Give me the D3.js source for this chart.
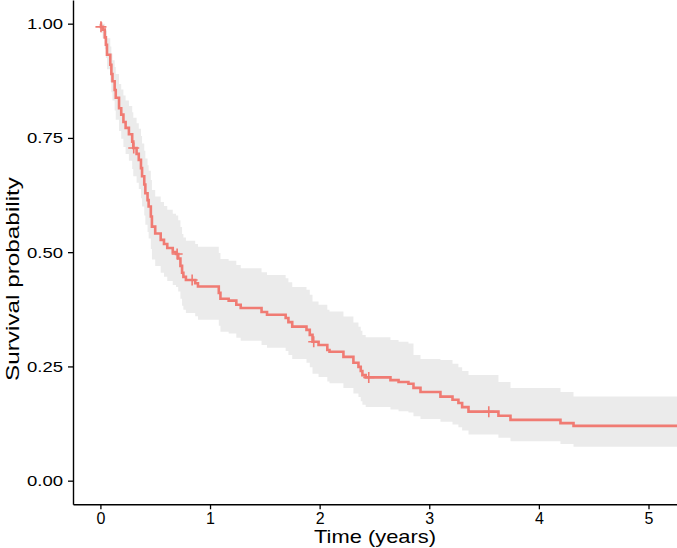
<!DOCTYPE html>
<html>
<head>
<meta charset="utf-8">
<script src="https://cdn.jsdelivr.net/npm/d3@7"></script>
<style>
body{margin:0;background:#fff}
text{font-family:"Liberation Sans",Arial,sans-serif}
</style>
</head>
<body>
<div id="chart"></div>
<script>
// Kaplan-Meier steps
var times = [0,0.005,0.02,0.04,0.05,0.06,0.09,0.10,0.11,0.13,0.14,0.17,0.19,0.21,0.23,0.26,0.29,0.30,0.33,0.35,0.37,0.38,0.40,0.41,0.43,0.44,0.46,0.47,0.50,0.55,0.58,0.61,0.66,0.69,0.71,0.73,0.745,0.757,0.78,0.865,0.89,1.08,1.095,1.17,1.24,1.28,1.47,1.52,1.69,1.715,1.75,1.88,1.91,1.935,1.99,2.07,2.09,2.217,2.308,2.354,2.375,2.39,2.42,2.646,2.72,2.81,2.856,2.92,3.102,3.212,3.266,3.30,3.358,3.631,3.741,4.197,4.316,5.27]
var surv = [1,0.993,0.987,0.970,0.954,0.932,0.910,0.890,0.874,0.855,0.838,0.815,0.801,0.785,0.772,0.758,0.742,0.728,0.715,0.702,0.684,0.666,0.648,0.629,0.614,0.600,0.578,0.556,0.541,0.527,0.518,0.509,0.500,0.496,0.486,0.470,0.455,0.446,0.439,0.432,0.425,0.411,0.398,0.394,0.385,0.378,0.369,0.363,0.356,0.347,0.337,0.330,0.319,0.304,0.297,0.286,0.282,0.271,0.258,0.249,0.240,0.231,0.226,0.220,0.216,0.212,0.203,0.194,0.184,0.177,0.170,0.161,0.151,0.142,0.133,0.126,0.120,0.120]
var lower = [1,0.980,0.968,0.944,0.925,0.900,0.872,0.850,0.832,0.810,0.790,0.765,0.748,0.730,0.715,0.700,0.682,0.666,0.652,0.638,0.618,0.600,0.580,0.560,0.544,0.530,0.507,0.484,0.470,0.455,0.446,0.437,0.428,0.424,0.414,0.398,0.383,0.374,0.367,0.360,0.352,0.339,0.326,0.322,0.313,0.306,0.297,0.291,0.284,0.275,0.266,0.258,0.248,0.234,0.227,0.217,0.213,0.203,0.191,0.183,0.174,0.166,0.161,0.156,0.152,0.149,0.141,0.135,0.129,0.123,0.117,0.110,0.101,0.094,0.086,0.080,0.074,0.074]
var upper = [1,1,1,0.995,0.985,0.968,0.950,0.935,0.920,0.905,0.890,0.868,0.856,0.843,0.832,0.820,0.806,0.794,0.782,0.770,0.754,0.738,0.722,0.705,0.690,0.678,0.658,0.636,0.622,0.610,0.601,0.593,0.584,0.580,0.570,0.555,0.540,0.532,0.525,0.518,0.512,0.498,0.485,0.481,0.472,0.465,0.456,0.450,0.443,0.434,0.424,0.418,0.407,0.392,0.385,0.374,0.370,0.359,0.346,0.337,0.328,0.319,0.314,0.308,0.304,0.300,0.275,0.266,0.264,0.256,0.248,0.240,0.231,0.216,0.203,0.194,0.184,0.184]
var censorTimes = [0.005,0.304,0.70,0.837,1.946,2.448,3.543]
var censorSurv = [0.993,0.728,0.496,0.439,0.304,0.226,0.151]
var xTicks = [0,1,2,3,4,5]
var yTicks = [0,0.25,0.5,0.75,1]

var width = 677
var height = 548
var padLeft = 73, padRight = 677, padTop = 0, padBottom = 504.3

var svg = d3.select("#chart").append("svg")
	.attr("width",width).attr("height",height)

var xScale = d3.scaleLinear().domain([-0.25,5.26]).range([padLeft,padRight])
var yScale = d3.scaleLinear().domain([-0.0517,1.0518]).range([padBottom,padTop])

var rows = times.map(function(t,i){return {t:t,s:surv[i],lo:lower[i],hi:upper[i]}})

var band = d3.area()
	.x(function(d){return xScale(d.t)})
	.y0(function(d){return yScale(d.lo)})
	.y1(function(d){return yScale(d.hi)})
	.curve(d3.curveStepAfter)

svg.append("path").datum(rows)
	.attr("d",band)
	.attr("fill","#ebebeb")

var line = d3.line()
	.x(function(d){return xScale(d.t)})
	.y(function(d){return yScale(d.s)})
	.curve(d3.curveStepAfter)

svg.append("path").datum(rows)
	.attr("d",line)
	.attr("fill","none")
	.attr("stroke","#f07b73")
	.attr("stroke-width",2.6)

// censor marks
var cs = 5.5
svg.selectAll(".cens")
	.data(censorTimes)
	.enter()
	.append("path")
	.attr("class","cens")
	.attr("d",function(d,i){
		var x = xScale(d), y = yScale(censorSurv[i])
		return "M"+(x-cs)+","+y+"H"+(x+cs)+"M"+x+","+(y-cs)+"V"+(y+cs)
	})
	.attr("stroke","#f07b73")
	.attr("stroke-width",1.6)

var xAxis = d3.axisBottom(xScale).tickValues(xTicks).tickSize(5).tickSizeOuter(0).tickPadding(3)
	.tickFormat(function(d){return d})
var yAxis = d3.axisLeft(yScale).tickValues(yTicks).tickSize(5).tickSizeOuter(0).tickPadding(5)
	.tickFormat(d3.format(".2f"))

var xG = svg.append("g").attr("transform","translate(0,"+padBottom+")").call(xAxis)
var yG = svg.append("g").attr("transform","translate("+padLeft+",0)").call(yAxis)

xG.select(".domain").attr("stroke","#000").attr("stroke-width",1.4)
yG.select(".domain").attr("stroke","#000").attr("stroke-width",1.4)
xG.selectAll(".tick line").attr("stroke","#000").attr("stroke-width",1.3)
yG.selectAll(".tick line").attr("stroke","#000").attr("stroke-width",1.3)
xG.selectAll(".tick text").attr("font-size",16).attr("fill","#000")
yG.selectAll(".tick text").attr("font-size",15.5).attr("fill","#000")
	.attr("textLength",36).attr("lengthAdjust","spacingAndGlyphs")

svg.append("text").text("Time (years)")
	.attr("x",(padLeft+padRight)/2).attr("y",543)
	.attr("text-anchor","middle")
	.attr("font-size",19)
	.attr("textLength",122).attr("lengthAdjust","spacingAndGlyphs")

svg.append("text").text("Survival probability")
	.attr("transform","translate(19,279) rotate(-90)")
	.attr("text-anchor","middle")
	.attr("font-size",19)
	.attr("textLength",204).attr("lengthAdjust","spacingAndGlyphs")
</script>
</body>
</html>
